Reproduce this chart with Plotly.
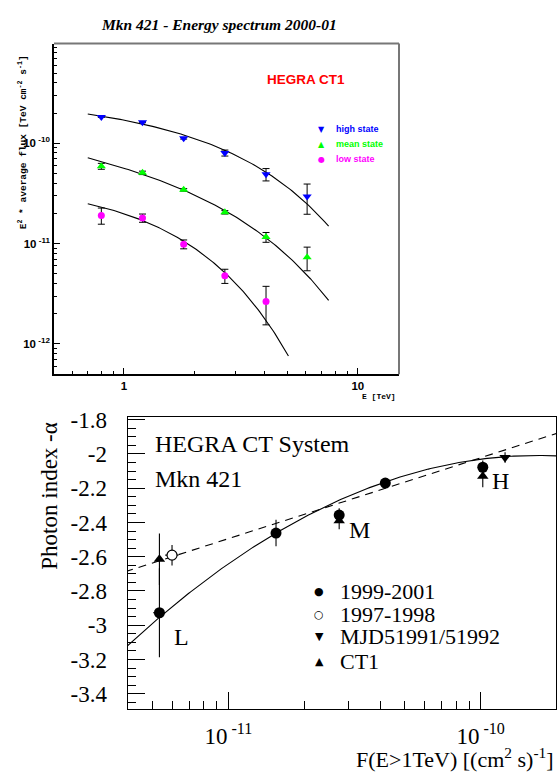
import numpy as np
import plotly.graph_objects as go

W, H = 559, 779

# ---------------- upper panel: HEGRA CT1 spectra (E^2 * flux) ----------------
energy = [0.8, 1.2, 1.8, 2.7, 4.05, 6.07]          # TeV
high_flux = [1.83e-10, 1.62e-10, 1.12e-10, 8.0e-11, 4.9e-11, 2.94e-11]
high_err = [0.02e-10, 0.02e-10, 0.02e-10, 0.55e-11, 0.69e-11, 0.98e-11]
mean_flux = [5.9e-11, 5.07e-11, 3.43e-11, 2.05e-11, 1.16e-11, 7.29e-12]
mean_err = [0.4e-11, 0.2e-11, 0.1e-11, 0.08e-11, 0.13e-11, 1.93e-12]
low_energy = [0.8, 1.2, 1.8, 2.7, 4.05]
low_flux = [1.91e-11, 1.80e-11, 9.87e-12, 4.78e-12, 2.65e-12]
low_err = [0.35e-11, 0.17e-11, 1.0e-12, 0.77e-12, 1.1e-12]

# power law with exponential cutoff: K * E^(2-alpha) * exp(-E/E0)
fit_high = dict(K=2.38e-10, alpha=2.117, E0=2.96, emin=0.7, emax=7.5)
fit_mean = dict(K=7.98e-11, alpha=2.381, E0=2.87, emin=0.7, emax=7.5)
fit_low = dict(K=4.54e-11, alpha=1.945, E0=1.208, emin=0.7, emax=5.05)

# ---------------- lower panel: photon index vs integral flux ----------------
sys_flux = [5.33e-12, 1.545e-11, 2.75e-11, 4.19e-11, 1.02e-10]   # 1999-2001
sys_index = [-2.927, -2.462, -2.357, -2.170, -2.078]
sys_err = [0.26, 0.077, 0.04, 0.02, 0.04]
sys_flux_err = [0.3e-12, 0, 0, 0, 0]
old_flux = [5.98e-12]                                             # 1997-1998
old_index = [-2.591]
old_err = [0.06]
old_flux_err = [0.36e-12]
mjd_flux = [1.25e-10]                                             # MJD51991/51992
mjd_index = [-2.021]
mjd_err = [0.03]
ct1_flux = [5.33e-12, 2.75e-11, 1.02e-10]                         # CT1
ct1_index = [-2.615, -2.39, -2.13]
ct1_err = [0.15, 0.05, 0.065]

# index(u) with u = log10(F / 1e-11)
curve_coef = [-2.6416, 1.0294, -0.4188]   # solid: quadratic
line_coef = [-2.4947, 0.472]              # dashed: linear

state_labels = ["L", "M", "H"]
index_ticks = [-3.4, -3.2, -3.0, -2.8, -2.6, -2.4, -2.2, -2.0, -1.8]
index_ticktext = ["-3.4", "-3.2", "-3", "-2.8", "-2.6", "-2.4", "-2.2", "-2", "-1.8"]

# ---------------- geometry (pixels) ----------------
def px(x):
    return x / W

def py(y):
    return 1 - y / H

TOP_DOM_X = [px(54), px(399)]
TOP_DOM_Y = [py(369), py(34)]
BOT_DOM_X = [px(127.7), px(556)]
BOT_DOM_Y = [py(708.3), py(412.7)]

BLUE, GREEN, MAGENTA = "#0000ff", "#00ff00", "#ff00ff"

fig = go.Figure()


def spectrum_curve(p):
    e = np.logspace(np.log10(p["emin"]), np.log10(p["emax"]), 120)
    return e, p["K"] * e ** (2 - p["alpha"]) * np.exp(-e / p["E0"])


for p in (fit_high, fit_mean, fit_low):
    e, f = spectrum_curve(p)
    fig.add_trace(go.Scatter(x=e, y=f, mode="lines", line=dict(color="black", width=1.1),
                             xaxis="x", yaxis="y", showlegend=False, hoverinfo="skip"))

for xs, ys, es, col, sym, size in [
    (energy, high_flux, high_err, BLUE, "triangle-down", 8),
    (energy, mean_flux, mean_err, GREEN, "triangle-up", 8),
    (low_energy, low_flux, low_err, MAGENTA, "circle", 7),
]:
    fig.add_trace(go.Scatter(
        x=xs, y=ys, mode="markers", xaxis="x", yaxis="y", showlegend=False,
        marker=dict(symbol=sym, size=size, color=col, line=dict(width=0)),
        error_y=dict(type="data", array=es, color="black", thickness=1, width=3.5),
    ))

# lower panel curves
u_grid = np.linspace(np.log10(3.9e-12) + 11, np.log10(2.05e-10) + 11, 200)
f_grid = 10 ** (u_grid - 11)
solid = curve_coef[0] + curve_coef[1] * u_grid + curve_coef[2] * u_grid ** 2
dashed = line_coef[0] + line_coef[1] * u_grid
fig.add_trace(go.Scatter(x=f_grid, y=solid, mode="lines", xaxis="x2", yaxis="y2",
                         line=dict(color="black", width=1.1), showlegend=False, hoverinfo="skip"))
fig.add_trace(go.Scatter(x=f_grid, y=dashed, mode="lines", xaxis="x2", yaxis="y2",
                         line=dict(color="black", width=1.1, dash="8px,6px"),
                         showlegend=False, hoverinfo="skip"))

fig.add_trace(go.Scatter(
    x=ct1_flux, y=ct1_index, mode="markers", xaxis="x2", yaxis="y2", showlegend=False,
    marker=dict(symbol="triangle-up", size=10, color="black"),
    error_y=dict(type="data", array=ct1_err, color="black", thickness=1.1, width=0)))
fig.add_trace(go.Scatter(
    x=sys_flux, y=sys_index, mode="markers", xaxis="x2", yaxis="y2", showlegend=False,
    marker=dict(symbol="circle", size=11, color="black"),
    error_y=dict(type="data", array=sys_err, color="black", thickness=1.1, width=0),
    error_x=dict(type="data", array=sys_flux_err, color="black", thickness=1.1, width=0)))
fig.add_trace(go.Scatter(
    x=old_flux, y=old_index, mode="markers", xaxis="x2", yaxis="y2", showlegend=False,
    marker=dict(symbol="circle", size=10, color="white", line=dict(width=1.2, color="black")),
    error_y=dict(type="data", array=old_err, color="black", thickness=1.1, width=0),
    error_x=dict(type="data", array=old_flux_err, color="black", thickness=1.1, width=0)))
fig.add_trace(go.Scatter(
    x=mjd_flux, y=mjd_index, mode="markers", xaxis="x2", yaxis="y2", showlegend=False,
    marker=dict(symbol="triangle-down", size=10, color="black"),
    error_y=dict(type="data", array=mjd_err, color="black", thickness=1.1, width=0)))

# ---------------- axes ----------------
top_sans = dict(family="Liberation Sans", size=11.5, color="black", weight="bold")
serif = "Liberation Serif"

fig.update_layout(
    width=W, height=H, margin=dict(l=0, r=0, t=0, b=0),
    paper_bgcolor="white", plot_bgcolor="white", showlegend=False,
    xaxis=dict(
        type="log", domain=TOP_DOM_X, range=[np.log10(0.502), np.log10(15.0)], anchor="y",
        showgrid=False, zeroline=False, showline=True, linecolor="black", linewidth=1.6,
        ticks="inside", ticklen=6, tickwidth=1, tickcolor="black",
        tickvals=[1, 10], ticktext=["1", "10"], tickfont=top_sans,
        minor=dict(ticks="inside", ticklen=3, tickcolor="black", tickwidth=1,
                   tickvals=[0.6, 0.7, 0.8, 0.9, 2, 3, 4, 5, 6, 7, 8, 9], showgrid=False),
    ),
    yaxis=dict(
        type="log", domain=TOP_DOM_Y, range=[-12.302, -9.007], anchor="x",
        showgrid=False, zeroline=False, showline=True, linecolor="black", linewidth=1.6,
        ticks="inside", ticklen=6, tickwidth=1, tickcolor="black",
        tickvals=[1e-12, 1e-11, 1e-10],
        ticktext=["10<sup> -12</sup>", "10<sup> -11</sup>", "10<sup> -10</sup>"],
        tickfont=top_sans,
        minor=dict(ticks="inside", ticklen=3, tickcolor="black", tickwidth=1, showgrid=False,
                   tickvals=[m * 10.0 ** d for d in (-13, -12, -11, -10) for m in range(2, 10)]),
    ),
    xaxis2=dict(
        type="log", domain=BOT_DOM_X, range=[np.log10(3.99e-12), np.log10(1.99e-10)], anchor="y2",
        showgrid=False, zeroline=False, showline=True, mirror=True, linecolor="black", linewidth=1.4,
        ticks="inside", ticklen=17, tickwidth=1, tickcolor="black",
        tickvals=[1e-11, 1e-10], ticktext=["10<sup> -11</sup>", "10<sup> -10</sup>"],
        tickfont=dict(family=serif, size=23, color="black"),
        ticklabelstandoff=6,
        minor=dict(ticks="inside", ticklen=8, tickcolor="black", tickwidth=1, showgrid=False,
                   tickvals=[m * 1e-12 for m in range(5, 10)] + [m * 1e-11 for m in range(2, 10)]),
    ),
    yaxis2=dict(
        domain=BOT_DOM_Y, range=[-3.49, -1.787], anchor="x2",
        showgrid=False, zeroline=False, showline=True, mirror=True, linecolor="black", linewidth=1.4,
        ticks="inside", ticklen=17, tickwidth=1, tickcolor="black",
        tickvals=index_ticks, ticktext=index_ticktext,
        tickfont=dict(family=serif, size=23, color="black"),
        ticklabelstandoff=15,
        minor=dict(ticks="inside", ticklen=8, tickcolor="black", tickwidth=1, showgrid=False,
                   tick0=-1.8, dtick=0.05),
    ),
)

# grey top / right border of the upper frame
fig.add_shape(type="line", xref="paper", yref="paper", x0=TOP_DOM_X[0], x1=TOP_DOM_X[1],
              y0=TOP_DOM_Y[1], y1=TOP_DOM_Y[1], line=dict(color="#777777", width=2))
fig.add_shape(type="line", xref="paper", yref="paper", x0=TOP_DOM_X[1], x1=TOP_DOM_X[1],
              y0=TOP_DOM_Y[0], y1=TOP_DOM_Y[1], line=dict(color="#777777", width=2))

# ---------------- text ----------------
ann = []


def text(x, y, s, size, family, color="black", xanchor="left", angle=0):
    ann.append(dict(x=px(x), y=py(y), xref="paper", yref="paper", text=s, showarrow=False,
                    xanchor=xanchor, yanchor="middle", textangle=angle,
                    font=dict(family=family, size=size, color=color)))


text(218.7, 15, "<b><i>Mkn 421 - Energy spectrum 2000-01</i></b>", 15.5, serif, xanchor="center")
text(265, 70, "<b>HEGRA CT1</b>", 13.5, "Liberation Sans", color="#ff0000")
for yy, sym, lab, col in [(121, "▼", "high state", BLUE), (136, "▲", "mean state", GREEN),
                          (151, "●", "low state", MAGENTA)]:
    text(321.7, yy, sym, 8, "DejaVu Sans", color=col, xanchor="center")
    text(334, yy, "<b>" + lab + "</b>", 9, "Liberation Sans", color=col)
text(22, 134, "<b>E<sup>2</sup> * average flux [TeV cm<sup>-2</sup> s<sup>-1</sup>]</b>", 9.5,
     "Liberation Mono", xanchor="center", angle=-90)
text(360, 392, "<b>E [TeV]</b>", 8, "Liberation Mono")

text(153, 440, "HEGRA CT System", 24, serif)
text(153, 475, "Mkn 421", 24, serif)
for yy, sym, lab in [(589, "●", "1999-2001"), (612, "○", "1997-1998"),
                     (635, "▼", "MJD51991/51992"), (659.5, "▲", "CT1")]:
    text(319.3, yy, sym, 11, "DejaVu Sans", xanchor="center")
    text(338.3, yy, lab, 22, serif)
for (xx, yy), lab in zip([(181, 635), (359.3, 526.7), (500, 476.7)], state_labels):
    text(xx, yy, lab, 24, serif, xanchor="center")
text(556, 758, "F(E>1TeV) [(cm<sup>2</sup> s)<sup>-1</sup>]", 22, serif, xanchor="right")
text(50, 492, "Photon index -α", 23, serif, xanchor="center", angle=-90)

fig.update_layout(annotations=ann)
fig.write_html("out.html")
